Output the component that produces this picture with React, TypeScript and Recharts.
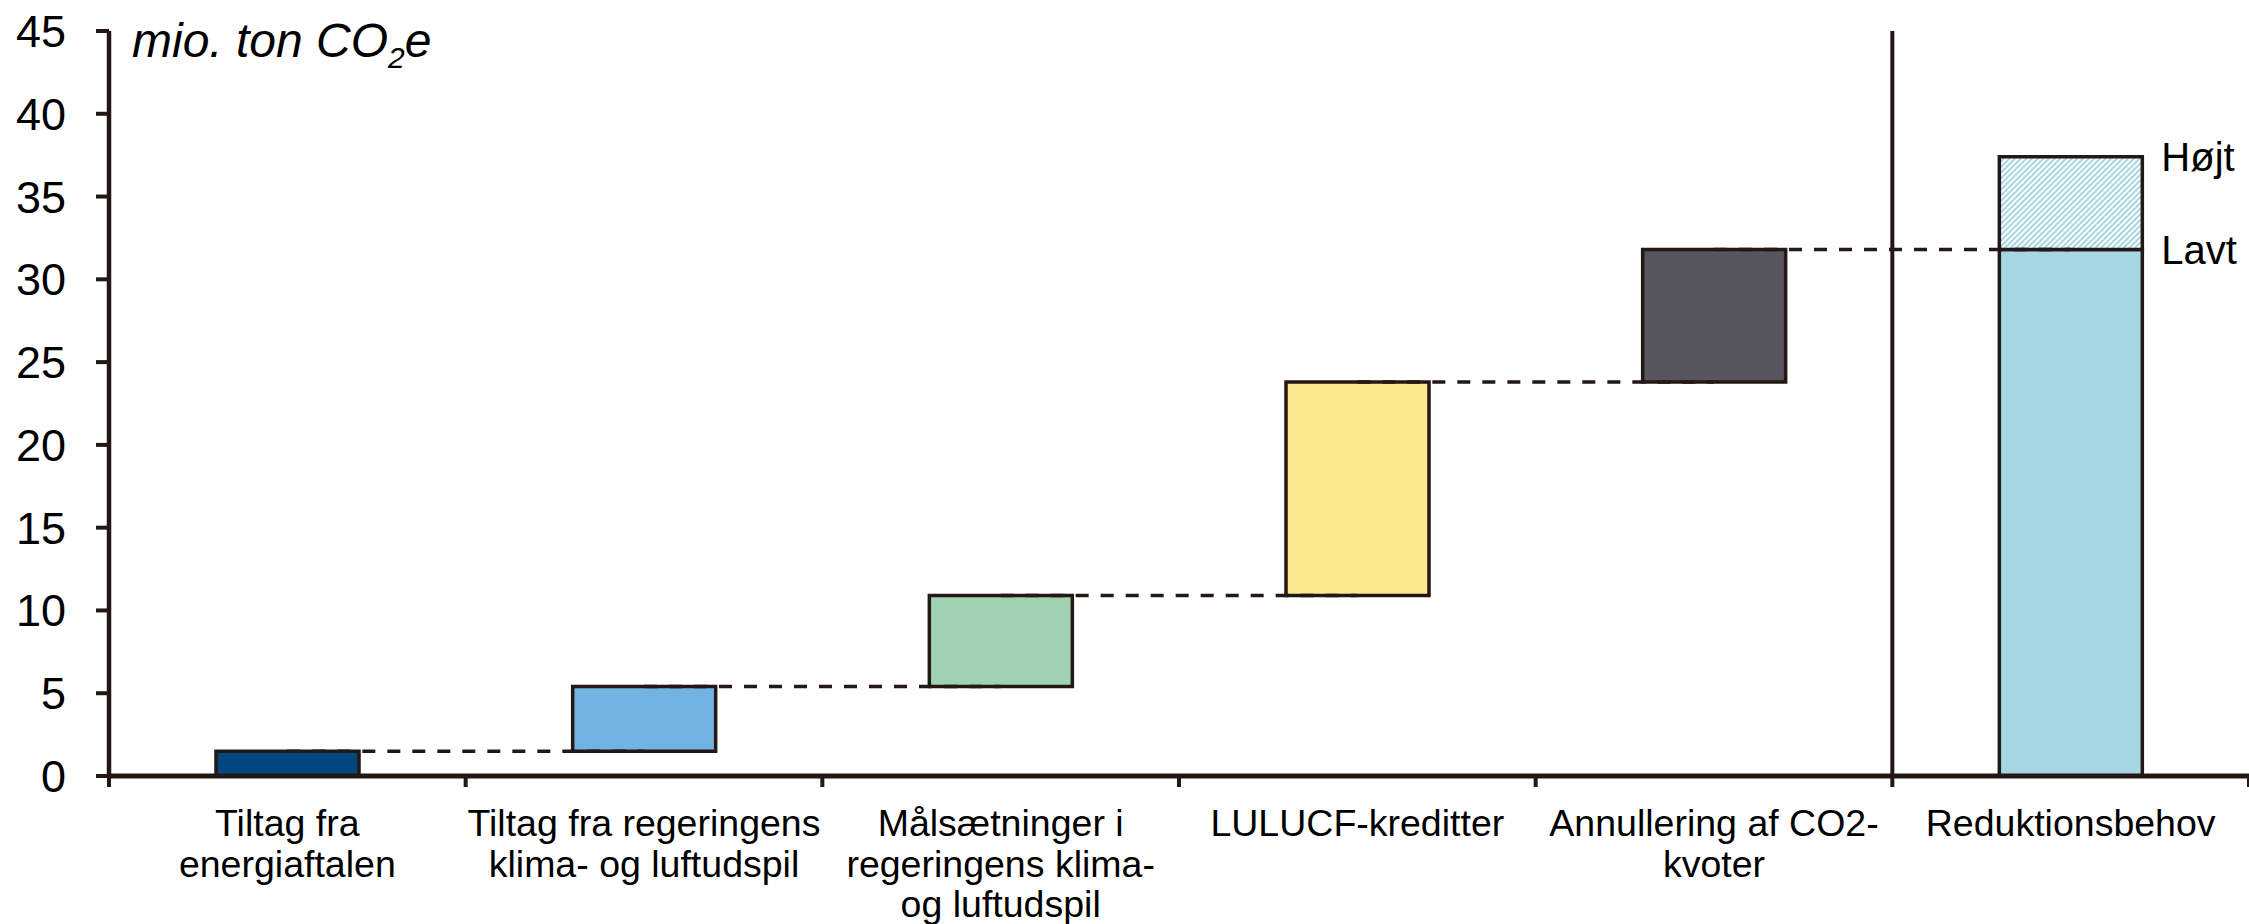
import React from 'react';
import {
  ComposedChart,
  Bar,
  Cell,
  XAxis,
  YAxis,
  ReferenceLine,
  LabelList,
} from 'recharts';

// Categories on the x axis (line breaks as in the original figure)
const categories = [
  'Tiltag fra\nenergiaftalen',
  'Tiltag fra regeringens\nklima- og luftudspil',
  'Målsætninger i\nregeringens klima-\nog luftudspil',
  'LULUCF-kreditter',
  'Annullering af CO2-\nkvoter',
  'Reduktionsbehov',
];

// Waterfall: invisible base + visible step, plus the "high" extra on the last bar
const baseValues = [0, 1.5, 5.4, 10.9, 23.8, 0];
const stepValues = [1.5, 3.9, 5.5, 12.9, 8.0, 31.8];
const highValues = [0, 0, 0, 0, 0, 5.6];
const lowLabels = ['', '', '', '', '', 'Lavt'];
const highLabels = ['', '', '', '', '', 'Højt'];

const yTicks = [0, 5, 10, 15, 20, 25, 30, 35, 40, 45];

const barColors = ['#00467F', '#73B3E3', '#A0D1B1', '#FEE88F', '#57565F', '#A6D5E3'];
const ink = '#231815';
const font = '"Liberation Sans", Arial, sans-serif';

const data = categories.map((name, i) => ({
  name,
  base: baseValues[i],
  step: stepValues[i],
  high: highValues[i],
  level: Math.round((baseValues[i] + stepValues[i]) * 10) / 10,
  lowLabel: lowLabels[i],
  highLabel: highLabels[i],
}));

// dashed connectors: from the top of one bar to the next bar
const connectors = data.slice(0, -1).map((d, i) => ({
  from: d.name,
  to: data[i + 1].name,
  y: d.level,
}));

const CategoryTick = ({ x, y, payload, index, visibleTicksCount }: any) => {
  const lines = String(payload.value).split('\n');
  const half = payload.offset || 2140 / 12;
  const isLast = index === (visibleTicksCount ?? categories.length) - 1;
  return (
    <g>
      <line x1={x - half} x2={x - half} y1={y} y2={y + 11} stroke={ink} strokeWidth={4} />
      {isLast && (
        <line x1={x + half} x2={x + half} y1={y} y2={y + 11} stroke={ink} strokeWidth={4} />
      )}
      <text x={x} y={y} textAnchor="middle" fontSize={37.5} fontFamily={font} fill="#000">
        {lines.map((line, i) => (
          <tspan key={i} x={x} dy={i === 0 ? 60 : 40.5}>
            {line}
          </tspan>
        ))}
      </text>
    </g>
  );
};

const SideLabel = (props: any) => {
  const { x, y, width, value } = props;
  if (!value) return null;
  return (
    <text
      x={x + width + 19}
      y={y}
      dominantBaseline="central"
      fontSize={40}
      fontFamily={font}
      fill="#000"
    >
      {value}
    </text>
  );
};

export default function App() {
  return (
    <div style={{ position: 'absolute', left: 0, top: 0, width: 2249, height: 924 }}>
      <ComposedChart
        width={2249}
        height={924}
        data={data}
        margin={{ top: 31, right: 0, bottom: 0, left: 9 }}
      >
        <defs>
          <pattern
            id="hatch"
            patternUnits="userSpaceOnUse"
            width="4"
            height="4"
            patternTransform="rotate(45)"
          >
            <rect width="4" height="4" fill="#ffffff" />
            <rect width="2" height="4" fill="#A6D5E3" />
          </pattern>
        </defs>
        <XAxis
          dataKey="name"
          type="category"
          height={148}
          interval={0}
          axisLine={{ stroke: ink, strokeWidth: 5 }}
          tickLine={false}
          tickSize={0}
          tickMargin={0}
          tick={<CategoryTick />}
        />
        <YAxis
          domain={[0, 45]}
          ticks={yTicks}
          interval={0}
          width={100}
          tickSize={13}
          tickMargin={30}
          axisLine={{ stroke: ink, strokeWidth: 4.5 }}
          tickLine={{ stroke: ink, strokeWidth: 4 }}
          tick={{ fill: '#000', fontSize: 45, fontFamily: font }}
        />
        {connectors.map((c) => (
          <ReferenceLine
            key={c.from}
            segment={[
              { x: c.from, y: c.y },
              { x: c.to, y: c.y },
            ]}
            stroke={ink}
            strokeWidth={3.5}
            strokeDasharray="13 12"
          />
        ))}
        <Bar dataKey="base" stackId="w" fill="transparent" barSize={143} isAnimationActive={false} />
        <Bar
          dataKey="step"
          stackId="w"
          barSize={143}
          stroke={ink}
          strokeWidth={3.5}
          isAnimationActive={false}
        >
          {data.map((d, i) => (
            <Cell key={d.name} fill={barColors[i]} />
          ))}
          <LabelList dataKey="lowLabel" content={<SideLabel />} />
        </Bar>
        <Bar
          dataKey="high"
          stackId="w"
          barSize={143}
          fill="url(#hatch)"
          stroke={ink}
          strokeWidth={3.5}
          isAnimationActive={false}
        >
          <LabelList dataKey="highLabel" content={<SideLabel />} />
        </Bar>
        <ReferenceLine x={categories[4]} position="end" stroke={ink} strokeWidth={4} />
      </ComposedChart>
      <svg
        width={600}
        height={90}
        style={{ position: 'absolute', left: 0, top: 0, pointerEvents: 'none' }}
      >
        <text x={132} y={57} fontSize={48} fontStyle="italic" fontFamily={font} fill="#000">
          mio. ton CO
          <tspan fontSize={30} dy={11}>
            2
          </tspan>
          <tspan dy={-11}>e</tspan>
        </text>
      </svg>
    </div>
  );
}
